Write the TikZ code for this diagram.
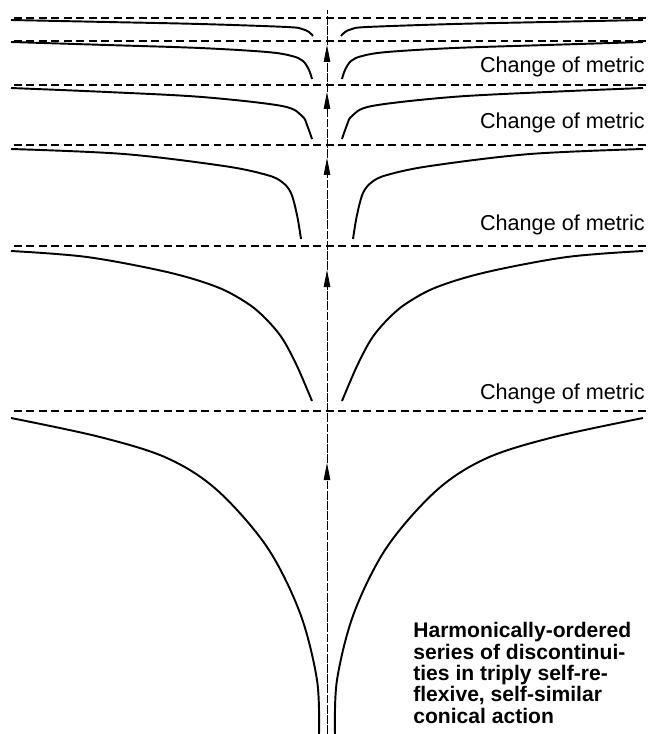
\documentclass[tikz,border=0pt]{standalone}
\usepackage{fontspec}
\setmainfont{Liberation Sans}
\usetikzlibrary{arrows.meta}
\tikzset{
  levelline/.style={line width=0.6pt, dash pattern=on 4.5pt off 2.6pt},
  metriccurve/.style={line width=1.1pt, smooth, tension=0.55},
  axisline/.style={line width=0.45pt, dash pattern=on 5pt off 0.8pt},
  upflow/.style={axisline, -{Triangle[length=0.34cm, width=0.13cm]}},
  metriclabel/.style={anchor=base east, inner sep=0pt,
                      font=\fontsize{12.3}{14}\selectfont},
  notebox/.style={anchor=north west, inner sep=0pt, align=left,
                  font=\fontsize{12}{12.2}\selectfont\bfseries},
}
\begin{document}
\begin{tikzpicture}[x=0.02cm, y=-0.02cm]
      \useasboundingbox (-327,0) rectangle (331,734);

      % dashed level lines
      \foreach \lev in {18, 41, 85, 145, 246, 411}
        \draw[levelline] (-313,\lev) -- (320,\lev);

      % curves, mirrored about the axis
      \foreach \side in {-1,1} {
        \begin{scope}[xscale=\side]
          \draw[metriccurve] plot coordinates {(8,734) (10,680) (27,613) (60,547)
                (110,490) (160,458) (227,437) (316,418)};
          \draw[metriccurve] plot coordinates {(15,401) (30,366) (45,338) (62,318)
                (80,303) (110,287) (160,272) (240,257) (316,251)};
          \draw[metriccurve] plot coordinates {(26,239) (30,215) (36,193) (45,182)
                (60,175) (103,166) (203,154) (316,149)};
          \draw[metriccurve] plot coordinates {(15,139) (20,125) (25,116) (45,106)
                (125,97) (220,92) (316,88)};
          \draw[metriccurve] plot coordinates {(15,79) (18,70) (24,61) (35,56)
                (60,52) (127,48) (220,45) (316,42)};
          \draw[metriccurve] plot coordinates {(14,36) (18,32) (25,29) (40,27)
                (127,24) (220,22) (316,20)};
        \end{scope}
      }

      % axis with arrows
      \coordinate (base) at (0,734);
      \coordinate (tipA) at (0,463);
      \coordinate (tipB) at (0,270);
      \coordinate (tipC) at (0,158);
      \coordinate (tipD) at (0,92);
      \coordinate (tipE) at (0,45);
      \coordinate (apex) at (0,10);
      \draw[upflow] (base) -- (tipA);
      \draw[upflow] (tipA) -- (tipB);
      \draw[upflow] (tipB) -- (tipC);
      \draw[upflow] (tipC) -- (tipD);
      \draw[upflow] (tipD) -- (tipE);
      \draw[axisline] (tipE) -- (apex);

      \node[metriclabel] (metricA) at (318,72)  {Change of metric};
      \node[metriclabel] (metricB) at (318,128) {Change of metric};
      \node[metriclabel] (metricC) at (318,230) {Change of metric};
      \node[metriclabel] (metricD) at (318,399) {Change of metric};

      \node[notebox] (note) at (86,622)
            {Harmonically-ordered\\series of discontinui-\\ties in triply self-re-\\flexive, self-similar\\conical action};
\end{tikzpicture}
\end{document}
